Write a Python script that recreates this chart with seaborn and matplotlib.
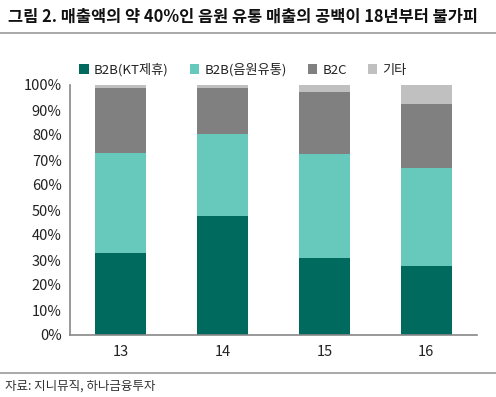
import matplotlib
matplotlib.use("Agg")
import matplotlib.pyplot as plt
import seaborn as sns
import numpy as np
import pandas as pd
from matplotlib.patches import Patch
from matplotlib.lines import Line2D

sns.set_style("white")
plt.rcParams['font.family'] = ['Noto Sans CJK KR', 'DejaVu Sans']

years = ["13", "14", "15", "16"]
series_names = ["B2B(KT제휴)", "B2B(음원유통)", "B2C", "기타"]
b2b_kt = [33.0, 47.7, 30.8, 27.7]
b2b_music = [40.0, 32.7, 41.6, 39.3]
b2c = [25.7, 18.3, 24.8, 25.5]
etc = [1.3, 1.3, 2.8, 7.5]
yticks = [0, 10, 20, 30, 40, 50, 60, 70, 80, 90, 100]
colors = ["#006A5E", "#66C9BB", "#808080", "#C0C0C0"]

title = "그림 2. 매출액의 약 40%인 음원 유통 매출의 공백이 18년부터 불가피"
source = "자료: 지니뮤직, 하나금융투자"

fig = plt.figure(figsize=(4.96, 3.97), dpi=100)
ax = fig.add_axes([70/496, 1-335/397, 407/496, 250/397])

layers = [b2b_kt, b2b_music, b2c, etc]
cum = np.cumsum(np.array(layers), axis=0)
for i in range(len(layers) - 1, -1, -1):
    df = pd.DataFrame({"year": years, "value": cum[i] / 100.0})
    sns.barplot(data=df, x="year", y="value", color=colors[i], width=0.5,
                saturation=1, ax=ax, edgecolor="none", linewidth=0)

ax.set_xlim(-0.5, 3.5)
ax.set_ylim(0, 1.0)
ax.set_yticks([v / 100 for v in yticks])
ax.set_yticklabels([f"{v}%" for v in yticks], fontsize=10.5, color="#222222")
ax.set_xlabel("")
ax.set_ylabel("")
ax.set_xticks([0, 1, 2, 3])
ax.set_xticklabels(years, fontsize=10.5, color="#222222")
ax.tick_params(axis="x", length=0, pad=7)
ax.set_xticks([0.5, 1.5, 2.5, 3.5, -0.5], minor=True)
ax.tick_params(axis="x", which="minor", length=4, color="#888888", width=1, direction="out")
ax.tick_params(axis="y", length=4, color="#888888", width=1, direction="out", pad=2)
for s in ["top", "right"]:
    ax.spines[s].set_visible(False)
for s in ["left", "bottom"]:
    ax.spines[s].set_color("#888888")
    ax.spines[s].set_linewidth(1.2)
ax.grid(False)

handles = [Patch(facecolor=c, edgecolor="none") for c in colors]
fig.legend(handles, series_names, loc="center", bbox_to_anchor=(0.49, 1-70/397),
           ncol=4, frameon=False, fontsize=9.5, handlelength=0.7, handleheight=0.7,
           handletextpad=0.4, columnspacing=1.6, labelcolor="#222222")

t = fig.text(8/496, 1-17/397, title, fontsize=12.5, va="center", ha="left", color="#111111",
             fontweight="bold")
fig.canvas.draw()
w = t.get_window_extent().width
t.set_fontsize(12.5 * 470 / w)
fig.add_artist(Line2D([0, 1], [1-33/397, 1-33/397], color="#999999", lw=1.2))
fig.add_artist(Line2D([0, 1], [1-373/397, 1-373/397], color="#999999", lw=1.2))
fig.text(5/496, 1-386/397, source, fontsize=9, va="center", ha="left", color="#333333")

fig.savefig("out.png", dpi=100)
